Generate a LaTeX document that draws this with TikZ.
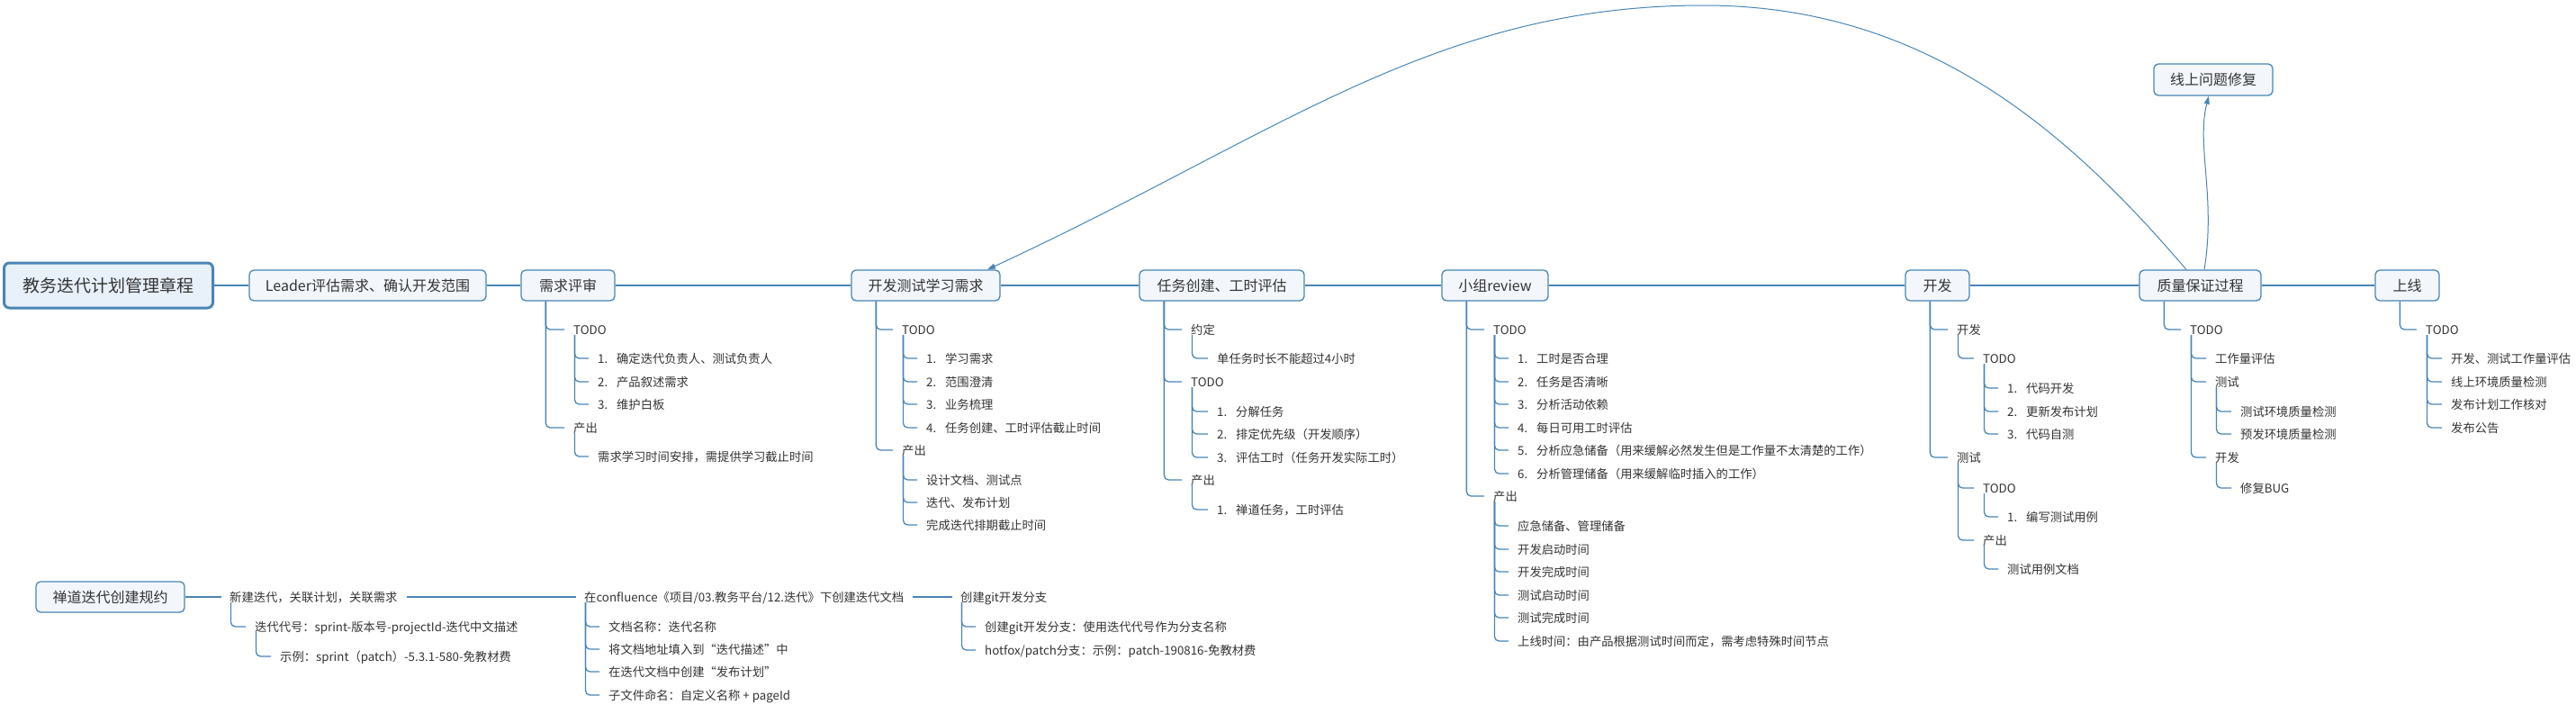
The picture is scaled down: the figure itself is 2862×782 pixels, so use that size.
\documentclass[tikz,border=0pt]{standalone}
\usepackage{fontspec}
\setmainfont{Noto Sans CJK SC}
\usetikzlibrary{arrows.meta}
\definecolor{lnc}{HTML}{4A85B5}
\definecolor{boxfill}{HTML}{F3F7FC}
\definecolor{rootfill}{HTML}{E8F0FA}
\definecolor{txt}{HTML}{333333}
\newcommand{\nm}[1]{\makebox[21pt][l]{#1.}}
\newcommand{\boxlink}[2]{\draw[conn] ([xshift=28pt]#1.south west) |- ([xshift=-10pt]#2.west);}
\newcommand{\textlink}[2]{\draw[conn] ([xshift=1.5pt]#1.south west) |- ([xshift=-10pt]#2.west);}
\begin{document}
\begin{tikzpicture}[x=1pt,y=-1pt,
  topic/.style={draw=lnc, line width=1.3pt, fill=boxfill, rounded corners=5pt, minimum height=34pt, inner sep=0pt, font=\fontsize{16}{18}\selectfont, text=txt},
  rootbox/.style={draw=lnc, line width=3pt, fill=rootfill, rounded corners=6pt, minimum height=50pt, minimum width=232pt, inner sep=0pt, font=\fontsize{19}{22}\selectfont, text=txt},
  leaf/.style={anchor=west, inner sep=0pt, text height=11pt, text depth=1pt, font=\fontsize{13.3}{16}\selectfont, text=txt},
  conn/.style={draw=lnc, line width=1.3pt, rounded corners=5pt},
  arcline/.style={draw=lnc, line width=1pt, -{Triangle[length=9pt,width=6pt]}},
]
\useasboundingbox (0,0) rectangle (2862,782);

% main topics
\node[rootbox] (root) at (120.5,317) {教务迭代计划管理章程};
\node[topic, minimum width=263pt] (leader) at (408.5,317) {Leader评估需求、确认开发范围};
\node[topic, minimum width=104pt] (xqps) at (631,317) {需求评审};
\node[topic, minimum width=165pt] (kfcs) at (1028.5,317) {开发测试学习需求};
\node[topic, minimum width=183pt] (rwcj) at (1357.5,317) {任务创建、工时评估};
\node[topic, minimum width=118pt] (xzr) at (1661,317) {小组review};
\node[topic, minimum width=71pt] (kf) at (2152.5,317) {开发};
\node[topic, minimum width=135pt] (zlbz) at (2444.5,317) {质量保证过程};
\node[topic, minimum width=71pt] (sx) at (2674.5,317) {上线};
\node[topic, minimum width=132pt, minimum height=35pt] (xswt) at (2459,88.5) {线上问题修复};
\node[topic, minimum width=165pt] (cd) at (122.5,663) {禅道迭代创建规约};

\draw[conn] (root.east) -- (leader.west);
\draw[conn] (leader.east) -- (xqps.west);
\draw[conn] (xqps.east) -- (kfcs.west);
\draw[conn] (kfcs.east) -- (rwcj.west);
\draw[conn] (rwcj.east) -- (xzr.west);
\draw[conn] (xzr.east) -- (kf.west);
\draw[conn] (kf.east) -- (zlbz.west);
\draw[conn] (zlbz.east) -- (sx.west);

% 需求评审
\node[leaf] (a1) at (637,366) {TODO};
\node[leaf] (a11) at (664,398) {\nm{1}确定迭代负责人、测试负责人};
\node[leaf] (a12) at (664,424) {\nm{2}产品叙述需求};
\node[leaf] (a13) at (664,449) {\nm{3}维护白板};
\node[leaf] (a2) at (637,475) {产出};
\node[leaf] (a21) at (664,507) {需求学习时间安排，需提供学习截止时间};
\boxlink{xqps}{a1} \boxlink{xqps}{a2}
\textlink{a1}{a11} \textlink{a1}{a12} \textlink{a1}{a13}
\textlink{a2}{a21}

% 开发测试学习需求
\node[leaf] (b1) at (1002,366) {TODO};
\node[leaf] (b11) at (1029,398) {\nm{1}学习需求};
\node[leaf] (b12) at (1029,424) {\nm{2}范围澄清};
\node[leaf] (b13) at (1029,449) {\nm{3}业务梳理};
\node[leaf] (b14) at (1029,475) {\nm{4}任务创建、工时评估截止时间};
\node[leaf] (b2) at (1002,500) {产出};
\node[leaf] (b21) at (1029,533) {设计文档、测试点};
\node[leaf] (b22) at (1029,558) {迭代、发布计划};
\node[leaf] (b23) at (1029,583) {完成迭代排期截止时间};
\boxlink{kfcs}{b1} \boxlink{kfcs}{b2}
\textlink{b1}{b11} \textlink{b1}{b12} \textlink{b1}{b13} \textlink{b1}{b14}
\textlink{b2}{b21} \textlink{b2}{b22} \textlink{b2}{b23}

% 任务创建、工时评估
\node[leaf] (c1) at (1323,366) {约定};
\node[leaf] (c11) at (1352,398) {单任务时长不能超过4小时};
\node[leaf] (c2) at (1323,424) {TODO};
\node[leaf] (c21) at (1352,457) {\nm{1}分解任务};
\node[leaf] (c22) at (1352,482) {\nm{2}排定优先级（开发顺序）};
\node[leaf] (c23) at (1352,508) {\nm{3}评估工时（任务开发实际工时）};
\node[leaf] (c3) at (1323,533) {产出};
\node[leaf] (c31) at (1352,566) {\nm{1}禅道任务，工时评估};
\boxlink{rwcj}{c1} \boxlink{rwcj}{c2} \boxlink{rwcj}{c3}
\textlink{c1}{c11}
\textlink{c2}{c21} \textlink{c2}{c22} \textlink{c2}{c23}
\textlink{c3}{c31}

% 小组review
\node[leaf] (d1) at (1659,366) {TODO};
\node[leaf] (d11) at (1686,398) {\nm{1}工时是否合理};
\node[leaf] (d12) at (1686,424) {\nm{2}任务是否清晰};
\node[leaf] (d13) at (1686,449) {\nm{3}分析活动依赖};
\node[leaf] (d14) at (1686,475) {\nm{4}每日可用工时评估};
\node[leaf] (d15) at (1686,500) {\nm{5}分析应急储备（用来缓解必然发生但是工作量不太清楚的工作）};
\node[leaf] (d16) at (1686,526) {\nm{6}分析管理储备（用来缓解临时插入的工作）};
\node[leaf] (d2) at (1659,551) {产出};
\node[leaf] (d21) at (1686,584) {应急储备、管理储备};
\node[leaf] (d22) at (1686,610) {开发启动时间};
\node[leaf] (d23) at (1686,635) {开发完成时间};
\node[leaf] (d24) at (1686,661) {测试启动时间};
\node[leaf] (d25) at (1686,686) {测试完成时间};
\node[leaf] (d26) at (1686,712) {上线时间：由产品根据测试时间而定，需考虑特殊时间节点};
\boxlink{xzr}{d1} \boxlink{xzr}{d2}
\textlink{d1}{d11} \textlink{d1}{d12} \textlink{d1}{d13} \textlink{d1}{d14} \textlink{d1}{d15} \textlink{d1}{d16}
\textlink{d2}{d21} \textlink{d2}{d22} \textlink{d2}{d23} \textlink{d2}{d24} \textlink{d2}{d25} \textlink{d2}{d26}

% 开发
\node[leaf] (e1) at (2174,366) {开发};
\node[leaf] (e11) at (2203,398) {TODO};
\node[leaf] (e111) at (2230,431) {\nm{1}代码开发};
\node[leaf] (e112) at (2230,457) {\nm{2}更新发布计划};
\node[leaf] (e113) at (2230,482) {\nm{3}代码自测};
\node[leaf] (e2) at (2174,508) {测试};
\node[leaf] (e21) at (2203,542) {TODO};
\node[leaf] (e211) at (2230,574) {\nm{1}编写测试用例};
\node[leaf] (e22) at (2203,600) {产出};
\node[leaf] (e221) at (2230,632) {测试用例文档};
\boxlink{kf}{e1} \boxlink{kf}{e2}
\textlink{e1}{e11}
\textlink{e11}{e111} \textlink{e11}{e112} \textlink{e11}{e113}
\textlink{e2}{e21} \textlink{e2}{e22}
\textlink{e21}{e211}
\textlink{e22}{e221}

% 质量保证过程
\node[leaf] (f1) at (2433,366) {TODO};
\node[leaf] (f11) at (2461,398) {工作量评估};
\node[leaf] (f12) at (2461,424) {测试};
\node[leaf] (f121) at (2489,457) {测试环境质量检测};
\node[leaf] (f122) at (2489,482) {预发环境质量检测};
\node[leaf] (f13) at (2461,508) {开发};
\node[leaf] (f131) at (2489,542) {修复BUG};
\boxlink{zlbz}{f1}
\textlink{f1}{f11} \textlink{f1}{f12} \textlink{f1}{f13}
\textlink{f12}{f121} \textlink{f12}{f122}
\textlink{f13}{f131}

% 上线
\node[leaf] (g1) at (2695,366) {TODO};
\node[leaf] (g11) at (2723,398) {开发、测试工作量评估};
\node[leaf] (g12) at (2723,424) {线上环境质量检测};
\node[leaf] (g13) at (2723,449) {发布计划工作核对};
\node[leaf] (g14) at (2723,475) {发布公告};
\boxlink{sx}{g1}
\textlink{g1}{g11} \textlink{g1}{g12} \textlink{g1}{g13} \textlink{g1}{g14}

% 禅道迭代创建规约
\node[leaf] (h1) at (255,663) {新建迭代，关联计划，关联需求};
\node[leaf] (h11) at (283,696) {迭代代号：sprint-版本号-projectId-迭代中文描述};
\node[leaf] (h111) at (311,729) {示例：sprint（patch）-5.3.1-580-免教材费};
\node[leaf] (h2) at (649,663) {在confluence《项目/03.教务平台/12.迭代》下创建迭代文档};
\node[leaf] (h21) at (676,696) {文档名称：迭代名称};
\node[leaf] (h22) at (676,721) {将文档地址填入到“迭代描述”中};
\node[leaf] (h23) at (676,746) {在迭代文档中创建“发布计划”};
\node[leaf] (h24) at (676,772) {子文件命名：自定义名称 + pageId};
\node[leaf] (h3) at (1067,663) {创建git开发分支};
\node[leaf] (h31) at (1094,696) {创建git开发分支：使用迭代代号作为分支名称};
\node[leaf] (h32) at (1094,722) {hotfox/patch分支：示例：patch-190816-免教材费};
\draw[conn] (cd.east) -- ([xshift=-9pt]h1.west);
\draw[conn] ([xshift=10pt]h1.east) -- ([xshift=-9pt]h2.west);
\draw[conn] ([xshift=10pt]h2.east) -- ([xshift=-9pt]h3.west);
\textlink{h1}{h11}
\textlink{h11}{h111}
\textlink{h2}{h21} \textlink{h2}{h22} \textlink{h2}{h23} \textlink{h2}{h24}
\textlink{h3}{h31} \textlink{h3}{h32}

% relation arrows
\coordinate (peak) at (1893,6);
\draw[arcline] ([xshift=-15.5pt]zlbz.north) .. controls (2301,150) and (2143,6) .. (peak) .. controls (1593,6) and (1420,150) .. ([xshift=68.5pt]kfcs.north);
\draw[arcline] ([xshift=4.5pt]zlbz.north) .. controls (2462,220) and (2440,160) .. ([xshift=-5pt]xswt.south);
\end{tikzpicture}
\end{document}
